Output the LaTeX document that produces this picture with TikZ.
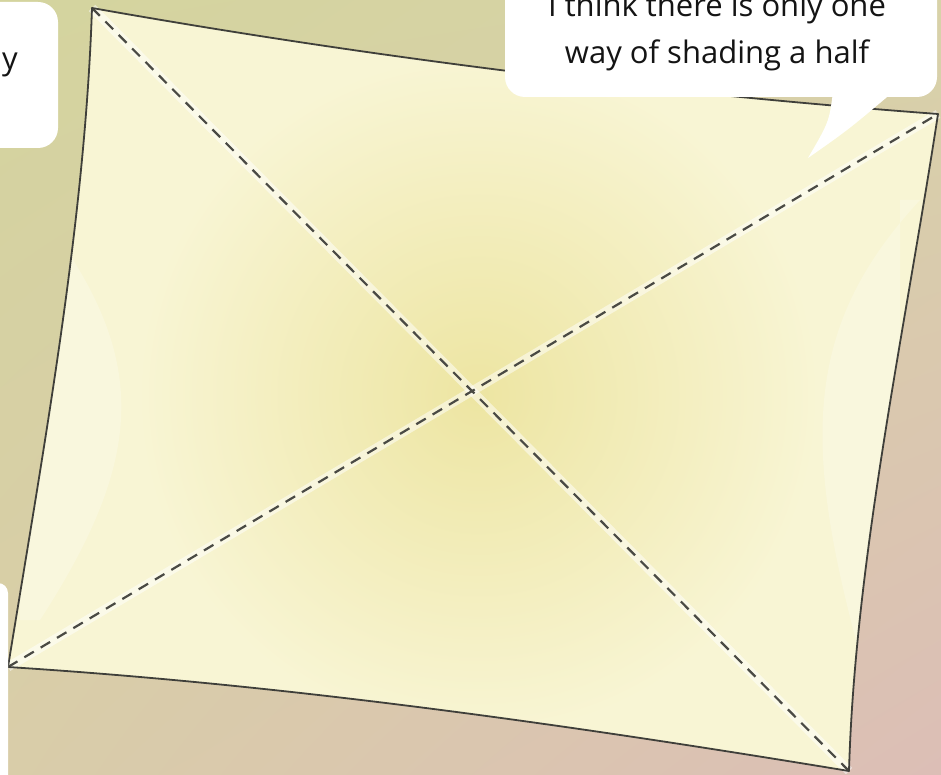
\documentclass[tikz,border=0pt]{standalone}
\usepackage{fontspec}
\setmainfont{Open Sans}
\usepackage{xcolor}
\usepackage{tikz}
\usetikzlibrary{positioning, calc, shadings}
\definecolor{bgoliveUL}{HTML}{D4D49E}
\definecolor{bgoliveUR}{HTML}{D8D2A8}
\definecolor{bgtanLL}{HTML}{D9CDA9}
\definecolor{bgpinkLR}{HTML}{DCBEB6}
\definecolor{paperedge}{HTML}{F8F5D4}
\definecolor{papermid}{HTML}{EDE5A2}
\definecolor{foldline}{HTML}{4A4A44}
\definecolor{outline}{HTML}{3F3F3A}

\tikzset{
  bubble/.style={fill=white, rounded corners=20pt, inner sep=0pt},
  speech/.style={font=\fontsize{31}{47}\selectfont, align=center, text=black!92},
  fold/.style={foldline, line width=2.2pt, dash pattern=on 11pt off 8pt},
  foldglow/.style={white, opacity=0.5, line width=9pt}
}

\begin{document}
\begin{tikzpicture}[x=1pt, y=-1pt]
    \useasboundingbox (0,0) rectangle (941,775);
    % background
    \shade[upper left=bgoliveUL, upper right=bgoliveUR,
           lower left=bgtanLL, lower right=bgpinkLR] (0,0) rectangle (941,775);

    % corners of the sheet
    \coordinate (tl) at (92,8);
    \coordinate (tr) at (938,114);
    \coordinate (br) at (849,771);
    \coordinate (bl) at (8,667);

    % the sheet
    \def\sheetpath{(tl) .. controls (374,58) and (656,93) .. (tr)
        .. controls (905,330) and (855,560) .. (br)
        .. controls (570,725) and (290,685) .. (bl)
        .. controls (45,440) and (85,220) .. (tl) -- cycle}
    \fill[paperedge] \sheetpath;
    \begin{scope}
      \clip \sheetpath;
      \shade[inner color=papermid, outer color=paperedge] (478,395) circle (340);
      \fill[white, opacity=0.22] (30,200) .. controls (150,350) and (150,450) .. (40,620) -- (20,620) -- (20,200) -- cycle;
      \fill[white, opacity=0.22] (920,200) .. controls (800,330) and (800,450) .. (870,690) -- (900,690) -- (900,200) -- cycle;
    \end{scope}

    % fold lines
    \draw[foldglow] (tl) -- (br);
    \draw[foldglow] (bl) -- (tr);
    \draw[fold] (tl) -- (br);
    \draw[fold] (bl) -- (tr);

    \draw[outline, line width=1.8pt, line join=round] \sheetpath;

    % speech bubbles
    \node[bubble, minimum width=432pt, minimum height=137pt] (thinkbubble) at (721,28.5) {};
    \fill[white] (833,92) .. controls (829,122) .. (808,158) .. controls (848,130) .. (893,92) -- cycle;
    \node[speech] (thinktext) at (717,32) {I think there is only one\\way of shading a half};

    \node[bubble, minimum width=98pt, minimum height=146pt] (leftbubble) at (9,75) {};
    \node[speech, anchor=base west, inner sep=0pt] (lefttext) at (2,70) {y};

    \node[bubble, rounded corners=10pt, minimum width=48pt, minimum height=220pt] (lowbubble) at (-16,693) {};
\end{tikzpicture}
\end{document}
